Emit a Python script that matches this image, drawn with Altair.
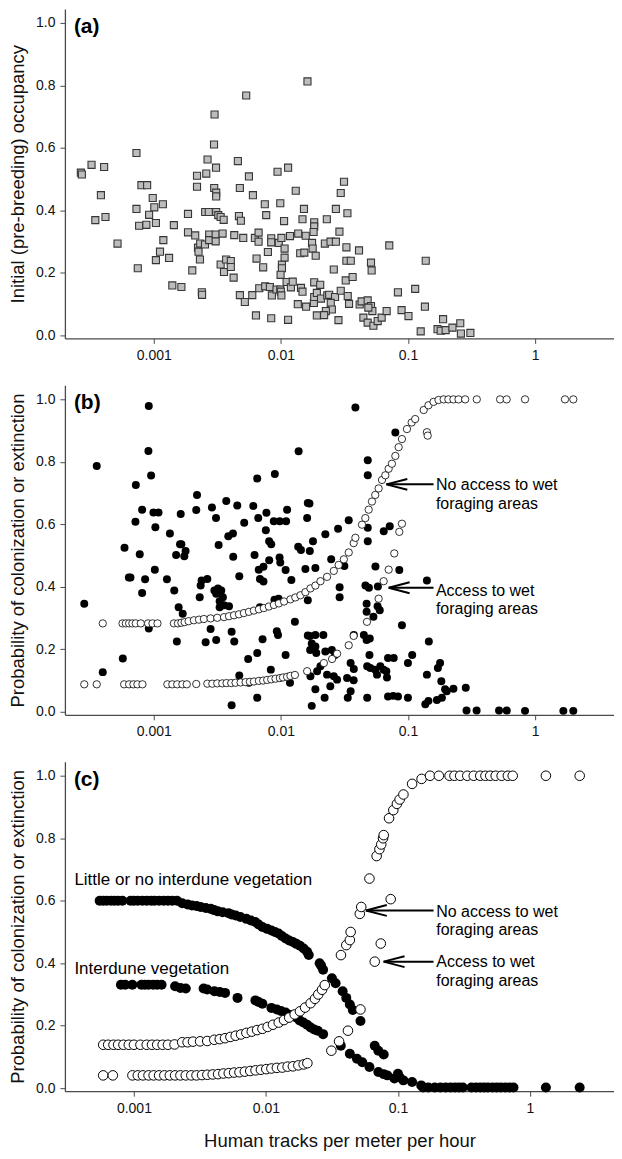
import altair as alt
import pandas as pd

FONT = "Liberation Sans"

# ---------------- data ----------------
X_TICKS = [0.001, 0.01, 0.1, 1]
Y_TICKS = [0.0, 0.2, 0.4, 0.6, 0.8, 1.0]

# panel (a): initial occupancy vs human tracks
occupancy_a = [
    (0.000267, 0.521), (0.000272, 0.515), (0.000324, 0.546), (0.000407, 0.539), (0.000384, 0.449),
    (0.000347, 0.369), (0.000417, 0.379), (0.000519, 0.294), (0.000731, 0.584), (0.0008, 0.481),
    (0.000887, 0.481), (0.000731, 0.405), (0.000767, 0.351), (0.000875, 0.354), (0.000919, 0.386),
    (0.000982, 0.440), (0.00101, 0.410), (0.00118, 0.420), (0.00104, 0.360), (0.000749, 0.215),
    (0.00104, 0.241), (0.00112, 0.268), (0.00119, 0.305), (0.00132, 0.248), (0.00144, 0.353),
    (0.0014, 0.160), (0.00165, 0.155), (0.00186, 0.389), (0.00186, 0.330), (0.00201, 0.208),
    (0.00212, 0.320), (0.00219, 0.511), (0.00219, 0.476), (0.00223, 0.281), (0.00225, 0.268),
    (0.00231, 0.243), (0.00232, 0.294), (0.00239, 0.138), (0.0024, 0.130), (0.00253, 0.291),
    (0.00259, 0.518), (0.00265, 0.563), (0.00273, 0.323), (0.00273, 0.305), (0.00307, 0.323),
    (0.00307, 0.301), (0.00348, 0.326), (0.00254, 0.395), (0.00271, 0.395), (0.00298, 0.611),
    (0.00301, 0.707), (0.00309, 0.537), (0.00299, 0.472), (0.0031, 0.457), (0.0031, 0.445),
    (0.0031, 0.395), (0.00322, 0.385), (0.00336, 0.379), (0.00355, 0.370), (0.00336, 0.227),
    (0.00371, 0.243), (0.00357, 0.203), (0.00404, 0.238), (0.00404, 0.219), (0.00425, 0.185),
    (0.0043, 0.321), (0.00459, 0.558), (0.00476, 0.472), (0.00468, 0.382), (0.00485, 0.367),
    (0.00476, 0.129), (0.00521, 0.107), (0.00506, 0.312), (0.00534, 0.768), (0.00561, 0.509),
    (0.00596, 0.129), (0.00603, 0.449), (0.00625, 0.312), (0.00668, 0.329), (0.00668, 0.300),
    (0.00644, 0.246), (0.00676, 0.151), (0.00637, 0.064), (0.00726, 0.218), (0.00748, 0.420),
    (0.00767, 0.385), (0.00791, 0.267), (0.00753, 0.157), (0.0084, 0.311), (0.0084, 0.298),
    (0.0084, 0.055), (0.0085, 0.128), (0.0082, 0.155), (0.00942, 0.524), (0.0099, 0.423),
    (0.00925, 0.147), (0.0099, 0.147), (0.0100, 0.140), (0.0101, 0.128), (0.00964, 0.296),
    (0.0101, 0.312), (0.0102, 0.227), (0.0102, 0.215), (0.00995, 0.194), (0.0106, 0.366),
    (0.0107, 0.278), (0.0107, 0.249), (0.0114, 0.537), (0.0114, 0.050), (0.0111, 0.171),
    (0.0118, 0.318), (0.012, 0.154), (0.0124, 0.172), (0.0131, 0.463), (0.0136, 0.100),
    (0.0137, 0.326), (0.0142, 0.263), (0.0144, 0.152), (0.0148, 0.140), (0.0152, 0.405),
    (0.0148, 0.372), (0.0158, 0.092), (0.0162, 0.813), (0.0314, 0.492), (0.0296, 0.456),
    (0.0230, 0.372), (0.0271, 0.405), (0.0334, 0.391), (0.0183, 0.362), (0.0183, 0.349),
    (0.0181, 0.331), (0.0157, 0.319), (0.0289, 0.332), (0.0176, 0.296), (0.0178, 0.278),
    (0.0188, 0.255), (0.0153, 0.265), (0.0222, 0.294), (0.0246, 0.300), (0.0271, 0.300),
    (0.0328, 0.282), (0.0412, 0.272), (0.0713, 0.288), (0.0328, 0.239), (0.0355, 0.239),
    (0.0512, 0.233), (0.0518, 0.208), (0.138, 0.239), (0.0261, 0.211), (0.0324, 0.176),
    (0.0367, 0.187), (0.0183, 0.170), (0.0204, 0.162), (0.0182, 0.104), (0.0183, 0.123),
    (0.0192, 0.136), (0.0207, 0.118), (0.0232, 0.128), (0.0240, 0.130), (0.0267, 0.123),
    (0.0296, 0.143), (0.0336, 0.126), (0.0344, 0.101), (0.0247, 0.104), (0.0252, 0.083),
    (0.0226, 0.078), (0.0219, 0.065), (0.0192, 0.064), (0.0284, 0.049), (0.0417, 0.099),
    (0.0432, 0.109), (0.0482, 0.112), (0.0512, 0.094), (0.0525, 0.078), (0.0488, 0.089),
    (0.0446, 0.057), (0.0482, 0.041), (0.0535, 0.031), (0.0578, 0.046), (0.0621, 0.057),
    (0.0680, 0.078), (0.0834, 0.138), (0.0891, 0.081), (0.101, 0.062), (0.114, 0.149),
    (0.136, 0.092), (0.126, 0.013), (0.189, 0.052), (0.171, 0.020), (0.181, 0.015),
    (0.198, 0.017), (0.224, 0.025), (0.258, 0.039), (0.261, 0.006), (0.310, 0.008),
]

# panel (b): observed extinction / colonization (filled dots)
observed_b = [
    (0.000284, 0.346), (0.000356, 0.787), (0.000397, 0.127), (0.000571, 0.171), (0.000589, 0.525),
    (0.000637, 0.430), (0.000656, 0.430), (0.000723, 0.726), (0.000776, 0.504), (0.000810, 0.647),
    (0.00081, 0.380), (0.000855, 0.424), (0.000718, 0.608), (0.000914, 0.979), (0.000908, 0.835),
    (0.000953, 0.756), (0.000994, 0.638), (0.00109, 0.638), (0.00103, 0.591), (0.00102, 0.455),
    (0.000914, 0.267), (0.00127, 0.424), (0.00134, 0.571), (0.00145, 0.388), (0.0015, 0.502),
    (0.00161, 0.536), (0.00165, 0.536), (0.00178, 0.515), (0.00174, 0.498), (0.00163, 0.633),
    (0.00219, 0.694), (0.00216, 0.646), (0.00287, 0.654), (0.00309, 0.620), (0.0023, 0.367),
    (0.00234, 0.404), (0.00238, 0.420), (0.00264, 0.425), (0.003, 0.388), (0.0031, 0.378),
    (0.0032, 0.395), (0.0034, 0.388), (0.0035, 0.367), (0.0033, 0.354), (0.00324, 0.534),
    (0.00372, 0.675), (0.00386, 0.562), (0.0042, 0.571), (0.00454, 0.660), (0.00471, 0.434),
    (0.00422, 0.496), (0.0033, 0.335), (0.00357, 0.341), (0.00515, 0.605), (0.00607, 0.659),
    (0.00664, 0.620), (0.00652, 0.747), (0.00897, 0.761), (0.00762, 0.581), (0.00809, 0.546),
    (0.0084, 0.536), (0.00621, 0.502), (0.0067, 0.455), (0.0073, 0.464), (0.0081, 0.485),
    (0.00685, 0.425), (0.0073, 0.417), (0.00977, 0.494), (0.0099, 0.478), (0.0109, 0.454),
    (0.0121, 0.422), (0.0077, 0.637), (0.0088, 0.610), (0.0112, 0.647), (0.011, 0.610),
    (0.0098, 0.610), (0.0138, 0.834), (0.0137, 0.528), (0.0144, 0.518), (0.0156, 0.457),
    (0.0161, 0.620), (0.0163, 0.668), (0.00891, 0.359), (0.0096, 0.362), (0.00391, 0.338),
    (0.00157, 0.335), (0.00169, 0.314), (0.00152, 0.225), (0.00256, 0.223), (0.0031, 0.230),
    (0.0028, 0.265), (0.0041, 0.256), (0.0043, 0.225), (0.00471, 0.116), (0.00553, 0.169),
    (0.00652, 0.188), (0.00718, 0.232), (0.00834, 0.135), (0.0093, 0.258), (0.0095, 0.246),
    (0.0109, 0.182), (0.0118, 0.093), (0.0129, 0.288), (0.0163, 0.244), (0.0041, 0.021),
    (0.00652, 0.045), (0.0056, 0.093), (0.00685, 0.335), (0.0163, 0.357),
    (0.0386, 0.974), (0.0796, 0.894), (0.0483, 0.805), (0.0483, 0.757), (0.0168, 0.667),
    (0.0342, 0.613), (0.0282, 0.586), (0.0224, 0.568), (0.0179, 0.546), (0.0169, 0.515),
    (0.0249, 0.488), (0.0316, 0.467), (0.0187, 0.460), (0.0483, 0.589), (0.0483, 0.546),
    (0.0645, 0.578), (0.0719, 0.594), (0.0555, 0.465), (0.0855, 0.454), (0.141, 0.420),
    (0.029, 0.399), (0.029, 0.367), (0.0463, 0.404), (0.0493, 0.397), (0.058, 0.401),
    (0.0473, 0.346), (0.0473, 0.320), (0.0535, 0.304), (0.0577, 0.338), (0.060, 0.325),
    (0.0897, 0.277), (0.0501, 0.235), (0.146, 0.225), (0.0169, 0.243), (0.0187, 0.246),
    (0.0216, 0.246), (0.0175, 0.219), (0.0187, 0.209), (0.017, 0.198), (0.0375, 0.246),
    (0.045, 0.246), (0.0473, 0.230), (0.0498, 0.182), (0.019, 0.188), (0.0224, 0.193),
    (0.0252, 0.198), (0.0267, 0.182), (0.0354, 0.156), (0.0375, 0.137), (0.0478, 0.146),
    (0.0506, 0.140), (0.0553, 0.135), (0.0606, 0.146), (0.0644, 0.135), (0.0571, 0.119),
    (0.0676, 0.130), (0.0684, 0.110), (0.0697, 0.172), (0.0773, 0.172), (0.100, 0.156),
    (0.108, 0.182), (0.179, 0.156), (0.172, 0.140), (0.141, 0.119), (0.183, 0.098),
    (0.196, 0.072), (0.228, 0.074), (0.285, 0.077), (0.202, 0.066), (0.185, 0.045),
    (0.145, 0.035), (0.137, 0.024), (0.169, 0.038), (0.0171, 0.114), (0.0193, 0.130),
    (0.0205, 0.146), (0.0231, 0.119), (0.0261, 0.114), (0.0277, 0.103), (0.0332, 0.108),
    (0.0374, 0.101), (0.0245, 0.082), (0.0187, 0.072), (0.0175, 0.019), (0.0221, 0.045),
    (0.0336, 0.045), (0.0354, 0.066), (0.0478, 0.045), (0.0697, 0.049), (0.0765, 0.051),
    (0.0835, 0.049), (0.100, 0.045), (0.289, 0.004), (0.347, 0.004), (0.521, 0.004),
    (0.599, 0.004), (0.834, 0.003), (1.67, 0.003), (2.0, 0.003),
]

# panel (b): predicted, no access to wet foraging areas (open circles, upper)
pred_noaccess_b = [
    (0.000397, 0.283), (0.000568, 0.283), (0.000603, 0.283), (0.00064, 0.283), (0.000679, 0.283),
    (0.000722, 0.283), (0.000791, 0.283), (0.000902, 0.283), (0.000977, 0.283), (0.00107, 0.283),
    (0.00144, 0.283), (0.00155, 0.283), (0.00165, 0.285), (0.00175, 0.287), (0.00188, 0.290),
    (0.00207, 0.293), (0.00227, 0.295), (0.00248, 0.297), (0.0028, 0.299), (0.00316, 0.301),
    (0.00357, 0.303), (0.00391, 0.306), (0.00428, 0.309), (0.00468, 0.312), (0.00512, 0.316),
    (0.00561, 0.320), (0.00614, 0.324), (0.00672, 0.328), (0.00735, 0.332), (0.00805, 0.337),
    (0.00881, 0.342), (0.00964, 0.347), (0.0106, 0.353), (0.0119, 0.360), (0.0130, 0.366),
    (0.01426, 0.373), (0.0156, 0.383), (0.0171, 0.395), (0.0187, 0.404), (0.0205, 0.418),
    (0.0231, 0.432), (0.0261, 0.451), (0.0285, 0.470), (0.0313, 0.488), (0.0342, 0.510),
    (0.0374, 0.540), (0.0386, 0.557), (0.0435, 0.599), (0.0462, 0.620), (0.0491, 0.647),
    (0.0521, 0.673), (0.0553, 0.694), (0.0588, 0.715), (0.0625, 0.742), (0.0664, 0.757),
    (0.0705, 0.778), (0.0748, 0.794), (0.0796, 0.819), (0.0845, 0.847), (0.0897, 0.873),
    (0.0982, 0.905), (0.107, 0.926), (0.114, 0.937), (0.133, 0.966), (0.145, 0.981),
    (0.159, 0.992), (0.174, 0.998), (0.191, 1.0), (0.208, 1.0), (0.228, 1.0), (0.250, 1.0),
    (0.282, 1.0), (0.348, 1.0), (0.531, 1.0), (0.598, 1.0), (0.834, 1.0), (1.72, 1.0), (2.0, 1.0),
]

# panel (b): predicted, access to wet foraging areas (open circles, lower)
pred_access_b = [
    (0.000284, 0.088), (0.000356, 0.088), (0.000585, 0.088), (0.00064, 0.088), (0.000692, 0.088),
    (0.000744, 0.088), (0.000815, 0.088), (0.00128, 0.088), (0.0014, 0.088), (0.00153, 0.088),
    (0.00168, 0.088), (0.00182, 0.088), (0.00216, 0.089), (0.00264, 0.090), (0.00289, 0.090),
    (0.00316, 0.091), (0.00346, 0.091), (0.00374, 0.092), (0.00407, 0.092), (0.0044, 0.093),
    (0.00482, 0.094), (0.00528, 0.095), (0.00571, 0.096), (0.00614, 0.097), (0.00672, 0.099),
    (0.00726, 0.100), (0.00781, 0.102), (0.0084, 0.104), (0.00908, 0.106), (0.00982, 0.108),
    (0.0104, 0.110), (0.0112, 0.112), (0.0119, 0.115), (0.0129, 0.118), (0.0161, 0.130),
    (0.0218, 0.156), (0.0253, 0.169), (0.0277, 0.186), (0.0342, 0.213), (0.0374, 0.243),
    (0.0476, 0.288), (0.0588, 0.362), (0.0644, 0.418), (0.0705, 0.455), (0.0781, 0.507),
    (0.0855, 0.576), (0.0897, 0.602), (0.141, 0.895), (0.143, 0.884),
]

# panel (c): predicted extinction, little or no interdune vegetation (filled, upper)
ext_noveg_c = [
    (0.00055, 0.600), (0.000585, 0.600), (0.000622, 0.600), (0.00067, 0.600), (0.000713, 0.600),
    (0.000759, 0.600), (0.000818, 0.600), (0.000944, 0.600), (0.001, 0.600), (0.00107, 0.600),
    (0.00116, 0.600), (0.00125, 0.600), (0.00135, 0.600), (0.00143, 0.600), (0.00155, 0.600),
    (0.00168, 0.600), (0.00181, 0.600), (0.00195, 0.600), (0.00212, 0.600),
    (0.00232, 0.592), (0.00255, 0.588), (0.00275, 0.585), (0.00298, 0.583), (0.0032, 0.580),
    (0.0035, 0.577), (0.00382, 0.574), (0.00405, 0.570), (0.00432, 0.566), (0.0047, 0.563),
    (0.00521, 0.560), (0.0055, 0.556), (0.0059, 0.553), (0.0064, 0.548), (0.00711, 0.542),
    (0.0077, 0.537), (0.0083, 0.532), (0.0088, 0.524), (0.0094, 0.516), (0.0102, 0.510),
    (0.011, 0.505), (0.0117, 0.500), (0.01245, 0.495), (0.0132, 0.487), (0.0141, 0.479),
    (0.015, 0.473), (0.016, 0.468), (0.017, 0.462), (0.0181, 0.456), (0.0193, 0.447),
    (0.0205, 0.437), (0.0211, 0.426), (0.0255, 0.400), (0.0262, 0.392), (0.0271, 0.379),
    (0.0316, 0.352), (0.0337, 0.336), (0.0381, 0.310), (0.0406, 0.289), (0.0432, 0.268),
    (0.0455, 0.250), (0.052, 0.215), (0.0667, 0.136), (0.071, 0.120), (0.078, 0.108),
]

# panel (c): predicted extinction, interdune vegetation (filled, lower)
ext_veg_c = [
    (0.000797, 0.331), (0.000859, 0.331), (0.000973, 0.331), (0.00114, 0.331), (0.00121, 0.331),
    (0.00129, 0.331), (0.0014, 0.331), (0.0015, 0.331), (0.00162, 0.331), (0.00205, 0.326),
    (0.00225, 0.321), (0.00247, 0.319), (0.00337, 0.319), (0.00359, 0.316), (0.00407, 0.310),
    (0.00447, 0.308), (0.0049, 0.305), (0.00609, 0.289), (0.00832, 0.281), (0.0088, 0.276),
    (0.0094, 0.270), (0.011, 0.257), (0.0121, 0.252), (0.013, 0.247), (0.0141, 0.242),
    (0.0155, 0.234), (0.017, 0.226), (0.018, 0.217), (0.0192, 0.210), (0.0205, 0.203),
    (0.0218, 0.194), (0.0232, 0.188), (0.0247, 0.184), (0.0271, 0.173), (0.0369, 0.136),
    (0.0432, 0.110), (0.0489, 0.094), (0.0537, 0.083), (0.0608, 0.068), (0.071, 0.052),
    (0.078, 0.045), (0.083, 0.041), (0.094, 0.031), (0.100, 0.046), (0.103, 0.035),
    (0.110, 0.025), (0.128, 0.020), (0.150, 0.009), (0.155, 0.002), (0.17, 0.002),
    (0.19, 0.002), (0.21, 0.002), (0.23, 0.002), (0.25, 0.002), (0.27, 0.002), (0.29, 0.002),
    (0.31, 0.002), (0.36, 0.002), (0.39, 0.002), (0.42, 0.002), (0.45, 0.002), (0.48, 0.002),
    (0.52, 0.002), (0.56, 0.002), (0.60, 0.002), (0.65, 0.002), (0.70, 0.002), (0.75, 0.002),
    (1.32, 0.002), (2.38, 0.002),
]

# panel (c): predicted colonization, no access to wet foraging areas (open, upper)
col_noaccess_c = [
    (0.000585, 0.139), (0.000638, 0.139), (0.0007, 0.139), (0.000759, 0.139), (0.000833, 0.139),
    (0.000914, 0.139), (0.001, 0.139), (0.00112, 0.139), (0.00125, 0.139), (0.00137, 0.139),
    (0.0015, 0.139), (0.00165, 0.139), (0.00181, 0.139), (0.00203, 0.140), (0.00232, 0.147),
    (0.00255, 0.147), (0.0028, 0.149), (0.00317, 0.150), (0.00359, 0.151), (0.00406, 0.155),
    (0.00447, 0.157), (0.0049, 0.160), (0.00538, 0.164), (0.0059, 0.168), (0.00648, 0.172),
    (0.00711, 0.177), (0.00781, 0.181), (0.00857, 0.186), (0.00941, 0.190), (0.0103, 0.196),
    (0.0113, 0.203), (0.0125, 0.210), (0.0137, 0.218), (0.015, 0.226), (0.0165, 0.236),
    (0.0181, 0.246), (0.0198, 0.258), (0.0218, 0.272), (0.0235, 0.286), (0.0249, 0.300),
    (0.0266, 0.315), (0.0279, 0.330), (0.037, 0.426), (0.0406, 0.458), (0.0432, 0.474),
    (0.0438, 0.500), (0.0514, 0.558), (0.0527, 0.580), (0.0608, 0.671), (0.0689, 0.743),
    (0.0724, 0.765), (0.0747, 0.780), (0.0771, 0.800), (0.078, 0.810), (0.0856, 0.864),
    (0.0922, 0.890), (0.0982, 0.910), (0.103, 0.924), (0.110, 0.940), (0.128, 0.974),
    (0.151, 0.990), (0.175, 1.0), (0.204, 1.0), (0.246, 1.0), (0.268, 1.0), (0.296, 1.0),
    (0.335, 1.0), (0.375, 1.0), (0.42, 1.0), (0.46, 1.0), (0.50, 1.0), (0.55, 1.0),
    (0.61, 1.0), (0.68, 1.0), (0.74, 1.0), (1.32, 1.0), (2.38, 1.0),
]

# panel (c): predicted colonization, access to wet foraging areas (open, lower)
col_access_c = [
    (0.000585, 0.041), (0.000692, 0.041), (0.000974, 0.041), (0.00107, 0.041), (0.00117, 0.041),
    (0.00129, 0.041), (0.00141, 0.041), (0.00155, 0.041), (0.0017, 0.041), (0.00187, 0.041),
    (0.00205, 0.041), (0.00225, 0.041), (0.00247, 0.041), (0.00272, 0.041), (0.00298, 0.041),
    (0.00328, 0.042), (0.0036, 0.043), (0.00395, 0.044), (0.00434, 0.045), (0.00476, 0.047),
    (0.00523, 0.048), (0.00574, 0.050), (0.0063, 0.051), (0.00692, 0.053), (0.0076, 0.055),
    (0.00834, 0.057), (0.00916, 0.059), (0.01006, 0.061), (0.011, 0.063), (0.0121, 0.065),
    (0.0133, 0.066), (0.0146, 0.069), (0.016, 0.070), (0.0176, 0.073), (0.0193, 0.076),
    (0.0206, 0.080), (0.0313, 0.120), (0.0358, 0.150), (0.0418, 0.184), (0.052, 0.252),
    (0.0667, 0.405), (0.0741, 0.463), (0.0881, 0.605),
]

# annotation text and arrows (data coordinates)
arrow_text_b = [("No access to wet", 0.166, 0.726), ("foraging areas", 0.166, 0.665),
                ("Access to wet", 0.166, 0.388), ("foraging areas", 0.166, 0.330)]
arrows_b = [(0.159, 0.0676, 0.728), (0.159, 0.0705, 0.397)]  # tail x, head x, y
arrow_text_c = [("No access to wet", 0.195, 0.565), ("foraging areas", 0.195, 0.505),
                ("Access to wet", 0.195, 0.405), ("foraging areas", 0.195, 0.344)]
arrows_c = [(0.186, 0.0571, 0.569), (0.186, 0.0778, 0.405)]
veg_text_c = [("Little or no interdune vegetation", 0.666), ("Interdune vegetation", 0.382)]

# ---------------- chart ----------------
W, H = 550, 330
Y_DOMAIN = [-0.0095, 1.045]
ARROW_HEAD = "M0,0L1,-0.26M0,0L1,0.26"


def df(pairs):
    return pd.DataFrame(pairs, columns=["x", "y"])


def make_enc(xdomain, ytitle, xtitle=None):
    def xf(field="x"):
        return alt.X(f"{field}:Q", scale=alt.Scale(type="log", domain=xdomain, nice=False),
                     axis=alt.Axis(values=X_TICKS, labelExpr="toString(datum.value)"),
                     title=xtitle)
    y = alt.Y("y:Q", scale=alt.Scale(domain=Y_DOMAIN, nice=False, zero=False),
              axis=alt.Axis(values=Y_TICKS, format=".1f"), title=ytitle)
    return xf, y


def panel_label(txt):
    return alt.Chart(pd.DataFrame({"t": [txt]})).mark_text(
        align="left", baseline="middle", fontSize=21, fontWeight="bold", font=FONT, color="black"
    ).encode(x=alt.value(9), y=alt.value(18), text="t:N")


def filled(data, xf, y, size):
    return alt.Chart(df(data)).mark_circle(size=size, color="black", opacity=1).encode(x=xf(), y=y)


def hollow(data, xf, y, size, sw):
    return alt.Chart(df(data)).mark_point(
        shape="circle", size=size, filled=True, fill="white", stroke="black",
        strokeWidth=sw, opacity=1, fillOpacity=1, strokeOpacity=1
    ).encode(x=xf(), y=y)


def arrow_layers(arrows, texts, xf, y):
    a = pd.DataFrame(arrows, columns=["x", "x2", "y"])
    shaft = alt.Chart(a).mark_rule(color="black", strokeWidth=2).encode(x=xf(), x2="x2:Q", y=y)
    head = alt.Chart(a).mark_point(
        shape=ARROW_HEAD, size=1764, filled=False, stroke="black", strokeWidth=2, opacity=1
    ).encode(x=xf("x2"), y=y)
    t = pd.DataFrame(texts, columns=["t", "x", "y"])
    txt = alt.Chart(t).mark_text(align="left", baseline="middle", fontSize=16, font=FONT,
                                 color="black").encode(x=xf(), y=y, text="t:N")
    return [shaft, head, txt]


# (a)
xa, ya = make_enc([0.0002, 4.18], "Initial (pre-breeding) occupancy")
pa = alt.layer(
    alt.Chart(df(occupancy_a)).mark_square(
        size=50, filled=True, fill="#bdbdbd", stroke="#363636", strokeWidth=1.1, opacity=1
    ).encode(x=xa(), y=ya),
    panel_label("(a)"),
).properties(width=W, height=H)

# (b)
xb, yb = make_enc([0.0002, 4.18], "Probability of colonization or extinction")
pb = alt.layer(
    filled(observed_b, xb, yb, 64),
    hollow(pred_noaccess_b, xb, yb, 54, 0.8),
    hollow(pred_access_b, xb, yb, 54, 0.8),
    *arrow_layers(arrows_b, arrow_text_b, xb, yb),
    panel_label("(b)"),
).properties(width=W, height=H)

# (c)
xc, yc = make_enc([0.0003, 4.33], "Probability of colonization or extinction",
                  "Human tracks per meter per hour")
veg = pd.DataFrame(veg_text_c, columns=["t", "y"])
pc = alt.layer(
    filled(ext_noveg_c, xc, yc, 100),
    filled(ext_veg_c, xc, yc, 100),
    hollow(col_noaccess_c, xc, yc, 92, 1),
    hollow(col_access_c, xc, yc, 92, 1),
    *arrow_layers(arrows_c, arrow_text_c, xc, yc),
    alt.Chart(veg).mark_text(align="left", baseline="middle", fontSize=17, font=FONT,
                             color="black").encode(x=alt.value(9.5), y=yc, text="t:N"),
    panel_label("(c)"),
).properties(width=W, height=H)

chart = alt.vconcat(pa, pb, pc, spacing=23).properties(padding=0).configure(
    font=FONT
).configure_axis(
    domainColor="#4a4a4a", domainWidth=1.3, tickColor="#4a4a4a", tickWidth=1, tickSize=5,
    labelFont=FONT, labelFontSize=14, labelColor="#111111", labelPadding=5,
    titleFont=FONT, titleFontSize=18.5, titleFontWeight="normal", titleColor="#111111",
    grid=False,
).configure_axisY(titlePadding=8).configure_axisX(titlePadding=16).configure_view(stroke=None)

chart.save("out.html", embed_options={"renderer": "svg", "actions": False})
